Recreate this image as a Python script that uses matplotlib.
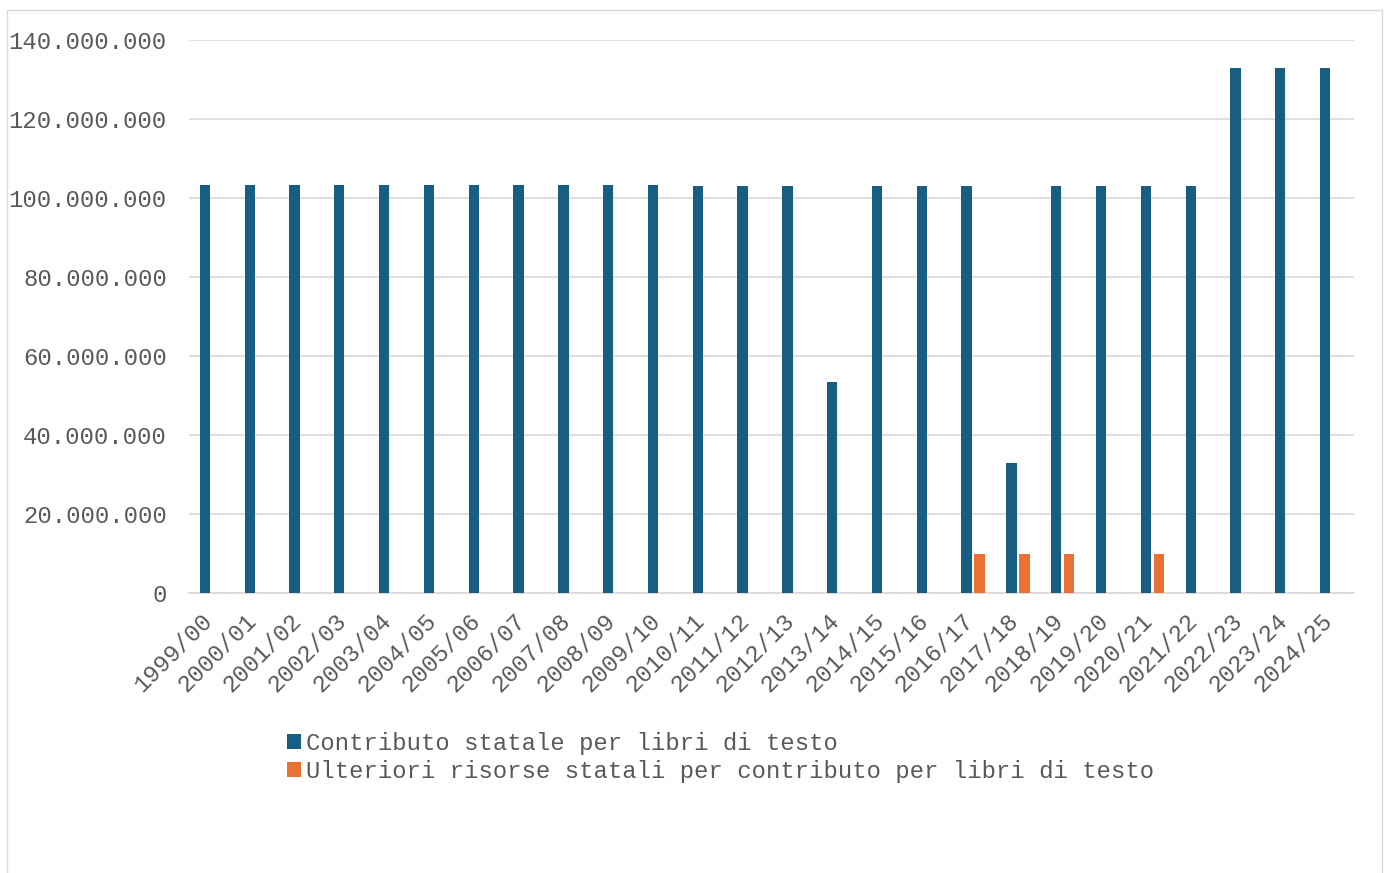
import matplotlib
matplotlib.use("Agg")
import matplotlib.pyplot as plt
from matplotlib.patches import Rectangle
from matplotlib.ticker import FuncFormatter
import matplotlib.transforms as mtransforms
import numpy as np

categories = ["1999/00", "2000/01", "2001/02", "2002/03", "2003/04", "2004/05", "2005/06",
              "2006/07", "2007/08", "2008/09", "2009/10", "2010/11", "2011/12", "2012/13",
              "2013/14", "2014/15", "2015/16", "2016/17", "2017/18", "2018/19", "2019/20",
              "2020/21", "2021/22", "2022/23", "2023/24", "2024/25"]
contributo = [103300000] * 11 + [103000000] * 3 + [53500000, 103000000, 103000000, 103000000,
              33000000, 103000000, 103000000, 103000000, 103000000, 133000000, 133000000, 133000000]
ulteriori = [0] * 17 + [10000000, 10000000, 10000000, 0, 10000000, 0, 0, 0, 0]
series_names = ["Contributo statale per libri di testo",
                "Ulteriori risorse statali per contributo per libri di testo"]

plt.rcParams['font.family'] = ['Liberation Mono', 'DejaVu Sans Mono']
text_color = "#595959"
blue = "#175E82"
orange = "#EA7134"
fs = 17.2

fig = plt.figure(figsize=(13.88, 8.73), dpi=100)
fig.patches.append(Rectangle((7/1388, -0.1), (1382-7)/1388, 1 + 0.1 - 10/873,
                             transform=fig.transFigure, fill=False,
                             edgecolor="#d9d9d9", linewidth=1))
ax = fig.add_axes([189/1388, 1 - 593/873, (1354-189)/1388, (593-40)/873])

x = np.arange(len(categories))
w = 0.23
off = 0.145
ax.bar(x - off, contributo, width=w, color=blue, label=series_names[0], zorder=3)
ax.bar(x + off, ulteriori, width=w, color=orange, label=series_names[1], zorder=3)

ax.set_xlim(-0.5, len(categories) - 0.5)
ax.set_ylim(0, 140000000)
ax.set_yticks(np.arange(0, 140000001, 20000000))
ax.yaxis.set_major_formatter(FuncFormatter(lambda v, p: f"{int(v):,}".replace(",", ".")))
ax.grid(axis="y", color="#d9d9d9", linewidth=1.2, zorder=0)
for s in ["top", "right", "left"]:
    ax.spines[s].set_visible(False)
ax.spines["bottom"].set_color("#d9d9d9")
ax.spines["bottom"].set_linewidth(1.2)
ax.tick_params(axis="both", length=0, colors=text_color, labelsize=fs)
ax.tick_params(axis="y", pad=16)
ax.set_xticks(x)
ax.set_xticklabels(categories, rotation=45, ha="right", va="center", rotation_mode="anchor")
ax.tick_params(axis="x", pad=17.5)
shift = mtransforms.ScaledTranslation(-3/100, 0, fig.dpi_scale_trans)
for lab in ax.get_xticklabels():
    lab.set_transform(lab.get_transform() + shift)

leg = fig.legend(loc="upper left", bbox_to_anchor=(275/1388, 1 - 720/873), frameon=False,
                 fontsize=fs, handlelength=0.6, handleheight=0.6, handletextpad=0.2,
                 labelspacing=0.2, borderpad=0)
for t in leg.get_texts():
    t.set_color(text_color)

fig.savefig("out.png", dpi=100)
